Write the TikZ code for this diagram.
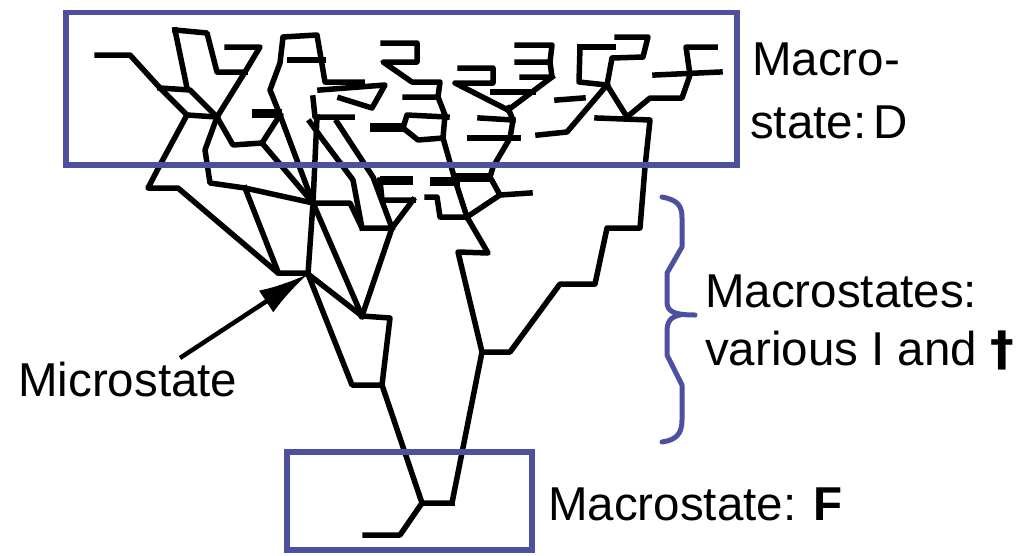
\documentclass[tikz,border=0pt]{standalone}
\usepackage{fontspec}
\setmainfont{Liberation Sans}
\newfontfamily\symfont{DejaVu Sans}
\usetikzlibrary{arrows.meta}
\definecolor{boxblue}{RGB}{76,80,158}
\begin{document}
\begin{tikzpicture}[x=1pt,y=-1pt,
  tree/.style={line width=5.5pt,line cap=rect,line join=round},
  bar/.style={line width=9pt,line cap=butt},
  frame/.style={draw=boxblue,line width=5.5pt},
  bracestyle/.style={draw=boxblue,line width=5pt,line cap=round,line join=round},
  lbl/.style={anchor=base west,inner sep=0pt,font=\fontsize{47.5}{56}\selectfont}]
\useasboundingbox (0,0) rectangle (1030,555);
% ---------- tree: left cluster ----------
\draw[tree] (97,55) -- (130,55) -- (160,88) -- (187,115) -- (217,117);
\draw[tree] (160,88) -- (190,90) -- (217,117);
\draw[tree] (175,30) -- (187,88);
\draw[tree] (175,30) -- (207,33) -- (217,72) -- (245,72);
\draw[tree] (227,47) -- (260,47) -- (245,72) -- (217,117);
\draw[tree] (187,115) -- (160,165) -- (148,188) -- (178,188) -- (278,273) -- (308,273);
\draw[tree] (217,117) -- (205,150) -- (210,183) -- (245,188) -- (313,203);
\draw[tree] (245,188) -- (278,272);
\draw[tree] (217,117) -- (233,145) -- (262,143) -- (280,115);
\draw[bar] (252,113) -- (282,113);
\draw[tree] (262,143) -- (313,203);
\draw[tree] (280,115) -- (313,203);
% ---------- tree: centre-left cluster ----------
\draw[tree] (280,115) -- (270,90) -- (280,63) -- (283,37) -- (317,35) -- (325,82) -- (362,82);
\draw[tree] (290,60) -- (323,60);
\draw[tree] (320,90) -- (385,85) -- (372,108) -- (340,98);
\draw[tree] (313,98) -- (315,117) -- (352,117);
\draw[tree] (317,117) -- (313,203);
\draw[tree] (310,122) -- (323,140) -- (353,180) -- (362,228);
\draw[tree] (337,122) -- (373,177) -- (392,228);
\draw[tree] (313,203) -- (350,203) -- (362,228) -- (392,228) -- (413,200);
\draw[bar] (380,180) -- (413,180);
\draw[tree] (380,180) -- (382,200) -- (413,200);
% ---------- tree: converging lines and trunk ----------
\coordinate (M) at (308,274);
\coordinate (X) at (313,203);
\coordinate (Y) at (362,316);
\draw[tree] (X) -- (M);
\draw[tree] (X) -- (Y);
\draw[tree] (M) -- (Y);
\draw[tree] (392,228) -- (Y);
\draw[tree] (Y) -- (390,318) -- (382,385) -- (352,385) -- (M);
\draw[tree] (382,385) -- (422,503);
\draw[tree] (365,535) -- (400,535) -- (422,503) -- (452,503);
\draw[tree] (452,503) -- (482,352) -- (510,352) -- (560,284) -- (595,284) -- (607,228) -- (640,228) -- (645,167) -- (650,120) -- (597,118);
\draw[tree] (482,352) -- (458,252) -- (488,253) -- (467,217) -- (440,217) -- (437,197) -- (427,197);
\draw[tree] (467,217) -- (500,195) -- (490,177) -- (493,167) -- (510,138) -- (513,120) -- (508,108);
\draw[bar] (453,177) -- (490,177);
\draw[tree] (500,195) -- (530,193);
\draw[bar] (430,181) -- (460,181);
\draw[tree] (443,138) -- (455,180) -- (467,217);
% ---------- tree: centre cluster ----------
\draw[tree] (383,43) -- (417,43) -- (417,62) -- (383,62) -- (412,82) -- (440,82) -- (438,97) -- (405,97);
\draw[tree] (438,97) -- (445,115) -- (443,138) -- (418,140) -- (403,128) -- (407,115) -- (447,117);
\draw[bar] (370,127) -- (405,127);
% ---------- tree: right-centre cluster ----------
\draw[tree] (460,68) -- (493,68) -- (493,83) -- (455,83) -- (508,110);
\draw[tree] (493,92) -- (533,92);
\draw[tree] (517,45) -- (552,45) -- (550,62) -- (517,62);
\draw[tree] (550,62) -- (552,77) -- (522,77);
\draw[tree] (552,77) -- (508,110);
\draw[tree] (480,118) -- (513,120);
\draw[tree] (470,138) -- (518,138);
% ---------- tree: far right cluster ----------
\draw[tree] (617,37) -- (648,37) -- (643,57) -- (612,58) -- (607,85);
\draw[tree] (580,47) -- (613,47);
\draw[tree] (580,47) -- (579,82) -- (607,85);
\draw[tree] (607,85) -- (567,132) -- (538,135);
\draw[tree] (557,100) -- (583,98);
\draw[tree] (607,85) -- (627,117) -- (650,98) -- (682,98) -- (690,75) -- (686,47) -- (715,47);
\draw[tree] (655,75) -- (720,72);
% ---------- frames ----------
\draw[frame] (66,12.5) rectangle (737,165);
\draw[frame] (287,452) rectangle (532,550);
% ---------- brace ----------
\draw[bracestyle] (662,197) .. controls (678,200) and (682,206) .. (682,218) -- (682,247) -- (667,273) -- (667,302) .. controls (667,312) and (675,315) .. (695,315);
\draw[bracestyle] (680,315) .. controls (670,317) and (667,322) .. (667,332) -- (667,355) -- (682,385) -- (682,420) .. controls (682,434) and (676,440) .. (662,442);
% ---------- labels ----------
\node[lbl] (tD1) at (752,75) {Macro-};
\node[lbl] (tD2) at (750,138) {state:\hspace{0.15em}D};
\node[lbl] (tI1) at (705,307) {Macrostates:};
\node[lbl] (tI2) at (705,365) {various I and {\symfont\bfseries †}};
\node[lbl] (tM) at (18,396) {Microstate};
\node[lbl] (tF) at (548,520) {Macrostate: \textbf{F}};
% ---------- arrow ----------
\coordinate (mtail) at (180,358);
\draw[line width=4.5pt,-{Latex[length=50pt,width=26pt]}] (mtail) -- (M);
\end{tikzpicture}
\end{document}
